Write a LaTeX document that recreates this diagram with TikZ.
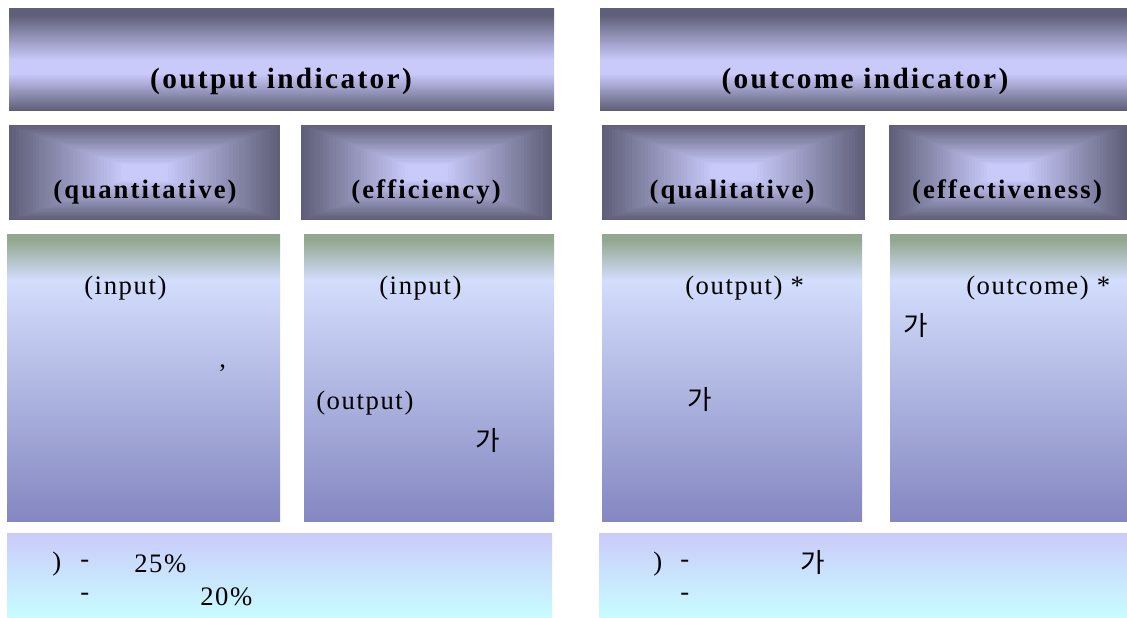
\documentclass[tikz,border=0pt]{standalone}
\usepackage{fontspec}
\setmainfont{Liberation Serif}
\newfontfamily\bodyf[LetterSpace=6]{Liberation Serif}
\newfontfamily\hdrf[LetterSpace=8]{Liberation Serif}
\newfontfamily\krf{Noto Sans CJK KR}
\definecolor{hdk}{HTML}{5F5F79}
\definecolor{hlt}{HTML}{C9C9FA}
\definecolor{bgr}{HTML}{93A890}
\definecolor{blt}{HTML}{D3DDFC}
\definecolor{bdk}{HTML}{8487C1}
\definecolor{ftop}{HTML}{CBCBFA}
\definecolor{fbot}{HTML}{C8FCFF}
\pgfdeclareverticalshading{hdrband}{100bp}{color(0bp)=(hdk); color(25bp)=(hdk); color(43bp)=(hlt); color(50bp)=(hlt); color(72bp)=(hdk); color(100bp)=(hdk)}
\pgfdeclareverticalshading{bodyband}{100bp}{color(0bp)=(bdk); color(25bp)=(bdk); color(67bp)=(blt); color(74bp)=(bgr); color(100bp)=(bgr)}
\newcommand\pathgrad[5]{%
  \pgfmathsetmacro\gcx{(#1+#3)/2}%
  \pgfmathsetmacro\gcy{#2+#5*(#4-#2)}%
  \foreach \i in {0,...,40}{%
    \pgfmathsetmacro\t{\i/40}%
    \pgfmathtruncatemacro\p{max(0,100-\i*3)}%
    \fill[hdk!\p!hlt] ({#1+\t*(\gcx-#1)},{#2+\t*(\gcy-#2)}) rectangle ({#3-\t*(#3-\gcx)},{#4-\t*(#4-\gcy)});
  }}
\tikzset{
  hdr/.style={inner sep=0pt, font=\hdrf\bfseries\fontsize{22pt}{24pt}\selectfont},
  sub/.style={inner sep=0pt, font=\hdrf\bfseries\fontsize{20pt}{22pt}\selectfont},
  txt/.style={inner sep=0pt, anchor=west, font=\bodyf\fontsize{20pt}{22pt}\selectfont},
  kr/.style={inner sep=0pt, anchor=west, font=\krf\fontsize{20pt}{22pt}\selectfont},
  hdrbox/.style={shading=hdrband},
  bodybox/.style={shading=bodyband},
  footbox/.style={top color=ftop, bottom color=fbot}
}
\begin{document}
\begin{tikzpicture}[x=0.75pt,y=-0.75pt]
\useasboundingbox (0,0) rectangle (1127,617);
% header bands
\path[hdrbox] (9,9) rectangle (554,110);
\path[hdrbox] (600,9) rectangle (1127,110);
% sub headers
\pathgrad{9}{125}{280}{220}{0.5}
\pathgrad{301}{125}{552}{220}{0.5}
\pathgrad{602}{125}{865}{220}{0.5}
\pathgrad{889}{125}{1127}{220}{0.5}
% body boxes
\path[bodybox] (7,234) rectangle (280,521);
\path[bodybox] (304,234) rectangle (554,521);
\path[bodybox] (602,234) rectangle (862,521);
\path[bodybox] (890,234) rectangle (1127,521);
% footer boxes
\path[footbox] (7,533) rectangle (552,617);
\path[footbox] (599,533) rectangle (1127,617);
% header texts
\node[hdr] (h1) at (281,81) {(output indicator)};
\node[hdr] (h2) at (865,81) {(outcome indicator)};
\node[sub] (s1) at (145,192) {(quantitative)};
\node[sub] (s2) at (426,192) {(efficiency)};
\node[sub] (s3) at (732,192) {(qualitative)};
\node[sub] (s4) at (1007,192) {(effectiveness)};
% body texts
\node[txt] (a1) at (84,288) {(input)};
\node[txt] (a2) at (219,368) {,};
\node[txt] (b1) at (379,288) {(input)};
\node[txt] (b2) at (316,403) {(output)};
\node[kr] (b3) at (475,440) {가};
\node[txt] (c1) at (685,288) {(output) *};
\node[kr] (c2) at (687,399) {가};
\node[txt] (d1) at (966,288) {(outcome) *};
\node[kr] (d2) at (903,325) {가};
% footer texts
\node[txt] (f1) at (52,564) {)};
\node[txt] (f2) at (80,564) {-};
\node[txt] (f3) at (134,564) {25\%};
\node[txt] (f4) at (80,597) {-};
\node[txt] (f5) at (200,597) {20\%};
\node[txt] (g1) at (653,564) {)};
\node[txt] (g2) at (680,564) {-};
\node[kr] (g3) at (800,562) {가};
\node[txt] (g4) at (680,597) {-};
\end{tikzpicture}
\end{document}
